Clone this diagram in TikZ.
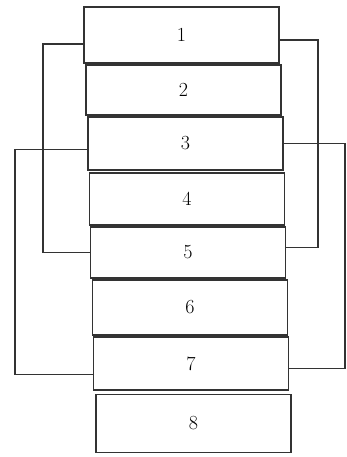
\documentclass[tikz,border=0pt]{standalone}
\usepackage{tikz}
\usetikzlibrary{positioning}
\tikzset{>=stealth}
\tikzset{
  slab/.style={draw, minimum width=195pt, inner sep=0pt, font=\fontsize{20}{22}\selectfont},
  wire/.style={line width=1.3pt, draw=black!80}
}

\begin{document}
\begin{tikzpicture}[x=1pt, y=-1pt, line width=1.2pt, draw=black!80]
\useasboundingbox (0, 0) rectangle (347, 457);
\node[slab, minimum height=56pt] (b1) at (181.5, 35) {1};
\node[slab, minimum height=50pt] (b2) at (183.5, 90) {2};
\node[slab, minimum height=53pt] (b3) at (185.5, 143.5) {3};
\node[slab, minimum height=52pt] (b4) at (187, 199) {4};
\node[slab, minimum height=51pt] (b5) at (188, 252.5) {5};
\node[slab, minimum height=55pt] (b6) at (190, 307.5) {6};
\node[slab, minimum height=53pt] (b7) at (191, 363.5) {7};
\node[slab, minimum height=58pt] (b8) at (193.5, 423.5) {8};
\coordinate (inL) at (43, 0);
\coordinate (outL) at (15, 0);
\coordinate (inR) at (318, 0);
\coordinate (outR) at (345, 0);
% inner loops 1 -- 5
\draw[wire] ([yshift=-9pt]b1.west) -- ([yshift=-9pt]b1.west -| inL) |- (b5.west);
\draw[wire] ([yshift=-5pt]b1.east) -- ([yshift=-5pt]b1.east -| inR) |- ([yshift=5pt]b5.east);
% outer loops 3 -- 7
\draw[wire] ([yshift=-6pt]b3.west) -- ([yshift=-6pt]b3.west -| outL) |- ([yshift=-11pt]b7.west);
\draw[wire] (b3.east) -- (b3.east -| outR) |- ([yshift=-5pt]b7.east);
\end{tikzpicture}
\end{document}
